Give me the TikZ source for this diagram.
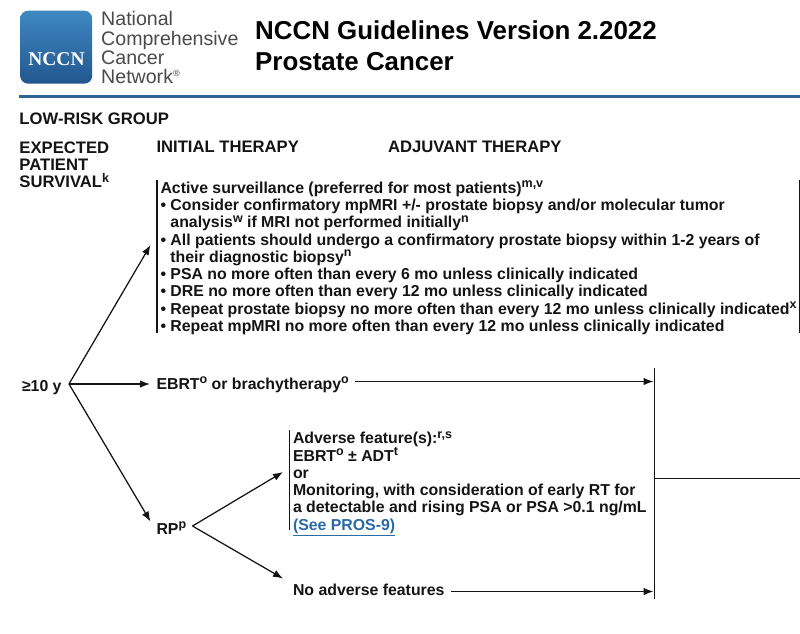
\documentclass[tikz,border=0pt]{standalone}
\usepackage{fontspec}
\setmainfont{Liberation Sans}
\newfontfamily\logoserif{Liberation Serif}
\usetikzlibrary{arrows.meta}
\definecolor{ruleblue}{HTML}{2F6596}
\definecolor{linkblue}{HTML}{2A6AA6}
\definecolor{logotop}{HTML}{3F88C2}
\definecolor{logobot}{HTML}{22578F}
\definecolor{logogrey}{HTML}{4A4A4A}
\definecolor{ink}{HTML}{141414}
\tikzset{
  x=1pt,y=-1pt,
  txt/.style={anchor=north west,inner sep=0pt,outer sep=0pt,align=left,text=ink,font=\fontsize{15.85}{17.25}\selectfont\bfseries},
  head/.style={txt,font=\fontsize{16.65}{17.3}\selectfont\bfseries},
  title/.style={anchor=north west,inner sep=0pt,align=left,text=black,font=\fontsize{25.9}{31}\selectfont\bfseries},
  logotext/.style={anchor=north west,inner sep=0pt,align=left,text=logogrey,font=\fontsize{19.6}{19.3}\selectfont},
  arr/.style={draw=ink,line width=1.25pt,-{Latex[length=10pt,width=7.5pt]}},
  barline/.style={draw=ink,line width=1.2pt},
}
\newcommand{\sps}[1]{\raisebox{5.6pt}{\fontsize{12.5}{12.5}\selectfont #1}}
\begin{document}
\begin{tikzpicture}
\useasboundingbox (0,0) rectangle (800,633);
\fill[white] (0,0) rectangle (800,633);
% logo
\node[anchor=north west,minimum width=72pt,minimum height=73pt,inner sep=0pt,rounded corners=8pt,top color=logotop,bottom color=logobot,draw=none] (logo) at (20,10.5) {};
\node[inner sep=0pt,text=white,font=\logoserif\fontsize{19.5}{19.5}\selectfont\bfseries] (logoname) at (56.5,59.5) {NCCN};
\node[logotext] (orgname) at (101,11.5) {National\\Comprehensive\\Cancer\\Network\textsuperscript{\fontsize{9}{9}\selectfont®}};
\node[title] (maintitle) at (255,20.5) {NCCN Guidelines Version 2.2022\\Prostate Cancer};
\draw[ruleblue,line width=2.6pt] (19,96.5) -- (800,96.5);
% headings
\node[head] (group) at (19.5,113) {LOW-RISK GROUP};
\node[head] (survival) at (19.5,141.5) {EXPECTED\\PATIENT\\SURVIVAL\sps{k}};
\node[head] (initial) at (156.5,141.5) {INITIAL THERAPY};
\node[head] (adjuvant) at (388,141.5) {ADJUVANT THERAPY};
% active surveillance
\node[txt] (active) at (160.5,181) {Active surveillance (preferred for most patients)\sps{m,v}\\
• Consider confirmatory mpMRI +/- prostate biopsy and/or molecular tumor\\
\phantom{• }analysis\sps{w} if MRI not performed initially\sps{n}\\
• All patients should undergo a confirmatory prostate biopsy within 1-2 years of\\
\phantom{• }their diagnostic biopsy\sps{n}\\
• PSA no more often than every 6 mo unless clinically indicated\\
• DRE no more often than every 12 mo unless clinically indicated\\
• Repeat prostate biopsy no more often than every 12 mo unless clinically indicated\sps{x}\\
• Repeat mpMRI no more often than every 12 mo unless clinically indicated};
\coordinate (actT) at (157,180); \coordinate (actB) at (157,333);
\coordinate (actRT) at (799.5,180); \coordinate (actRB) at (799.5,333);
\draw[barline] (actT) -- (actB);
\draw[barline] (actRT) -- (actRB);
% left column
\node[txt,anchor=base west] (ten) at (22,391) {≥10 y};
\coordinate (fan) at (69,384);
\coordinate (activeIn) at (150.5,245);
\draw[arr] (fan) -- (activeIn);
\node[txt,anchor=base west] (ebrt) at (156.5,389.5) {EBRT\sps{o} or brachytherapy\sps{o}};
\coordinate (ebrtIn) at (150,384);
\draw[arr] (fan) -- (ebrtIn);
\node[txt,anchor=base west] (rp) at (156.5,534) {RP\sps{p}};
\coordinate (rpIn) at (150.5,521.5);
\draw[arr] (fan) -- (rpIn);
% collector
\coordinate (colT) at (654.5,368); \coordinate (colB) at (654.5,599);
\draw[barline] (colT) -- (colB);
\coordinate (ebrtEnd) at (653.5,381.5);
\coordinate (ebrtOut) at (355,381.5);
\draw[arr] (ebrtOut) -- (ebrtEnd);
\coordinate (colOut) at (800,478.5);
\draw[barline] (colT |- colOut) -- (colOut);
% adverse
\node[txt] (adverse) at (293,431.5) {Adverse feature(s):\sps{r,s}\\
EBRT\sps{o} ± ADT\sps{t}\\
or\\
Monitoring, with consideration of early RT for\\
a detectable and rising PSA or PSA >0.1 ng/mL\\
\textcolor{linkblue}{\underline{(See PROS-9)}}};
\coordinate (advT) at (289.5,430); \coordinate (advB) at (289.5,530);
\draw[barline] (advT) -- (advB);
\coordinate (rpOut) at (192.5,526);
\coordinate (advIn) at (283,472);
\draw[arr] (rpOut) -- (advIn);
\node[txt,anchor=base west] (noadv) at (293,595.5) {No adverse features};
\coordinate (noIn) at (283,578.5);
\draw[arr] (rpOut) -- (noIn);
\coordinate (noOut) at (451,591.5);
\draw[arr] (noOut) -- (noOut -| ebrtEnd);
\end{tikzpicture}
\end{document}
